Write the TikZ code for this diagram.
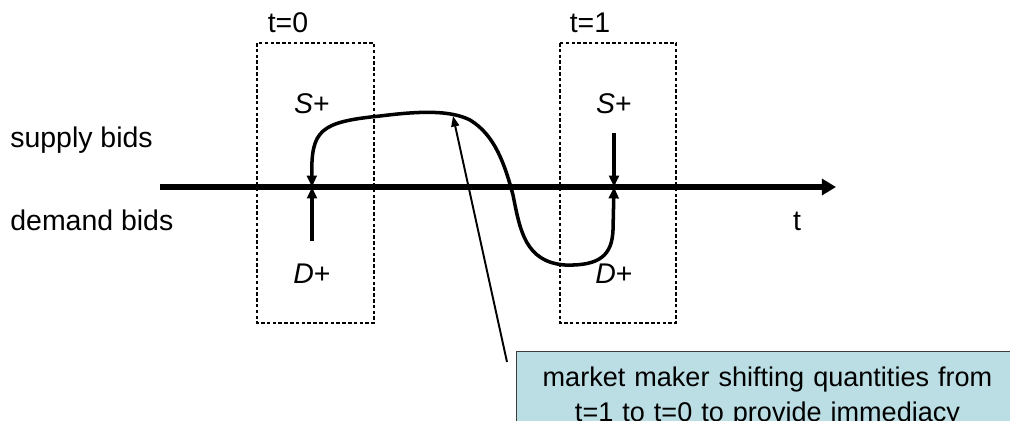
\documentclass[tikz,border=0pt]{standalone}
\usepackage{fontspec}
\setmainfont{Liberation Sans}
\usetikzlibrary{arrows.meta}
\definecolor{calloutblue}{RGB}{186,222,228}
\definecolor{calloutline}{RGB}{60,60,60}

\tikzset{
  lbl/.style={font=\fontsize{16.2}{20.4}\selectfont, inner sep=0pt},
  period/.style={dash pattern=on 2pt off 1.3pt, line width=0.6pt},
  bid/.style={line width=2.1pt, -{Triangle[length=6.5pt,width=5.5pt]}},
  shiftcurve/.style={line width=2pt, {Triangle[length=6.5pt,width=5.5pt]}-{Triangle[length=6.5pt,width=5.5pt]}},
  pointer/.style={line width=1.1pt, -{Triangle[length=6pt,width=4.5pt]}},
  callout/.style={draw=calloutline, line width=0.6pt, fill=calloutblue, anchor=north west,
    minimum width=10.04cm, minimum height=1.8cm, text width=9.8cm, align=center,
    inner ysep=8.5pt, anchor=north west, font=\fontsize{15.4}{20.4}\selectfont}
}

\begin{document}
\begin{tikzpicture}[x=0.02cm,y=-0.02cm]
\useasboundingbox (0,0) rectangle (1010,420);

\draw[period] (257,43) rectangle (374,323);
\draw[period] (560,43) rectangle (676,323);

\node[lbl, anchor=base] (t0) at (288,32) {t=0};
\node[lbl, anchor=base] (t1) at (590,32) {t=1};

\node[lbl, anchor=base west] (supply) at (10,147) {supply bids};
\node[lbl, anchor=base west] (demand) at (10,230) {demand bids};
\node[lbl, anchor=base] (tlabel) at (797,230) {t};

\node[lbl, anchor=base] (s0) at (312,113) {\itshape S\upshape+};
\node[lbl, anchor=base] (d0) at (312,283) {\itshape D\upshape+};
\node[lbl, anchor=base] (s1) at (614,113) {\itshape S\upshape+};
\node[lbl, anchor=base] (d1) at (614,283) {\itshape D\upshape+};

\coordinate (axisstart) at (160,187);
\coordinate (axisend) at (836,187);
\coordinate (o0) at (312,187);
\coordinate (o1) at (614,187);
\coordinate (dfoot) at (312,241);
\coordinate (shead) at (614,133);
\coordinate (top) at (453,116);

\draw[line width=3.3pt, -{Triangle[length=8pt,width=9pt]}] (axisstart) -- (axisend);

\draw[bid] (dfoot) -- (o0);
\draw[bid] (shead) -- (o1);

\draw[shiftcurve] (o0) .. controls (311,130) and (320,122) .. (380,116)
  .. controls (420,111) and (450,110) .. (470,120)
  .. controls (495,135) and (505,165) .. (513,195)
  .. controls (520,230) and (525,262) .. (565,265)
  .. controls (600,266) and (612,255) .. (613,230) -- (o1);

\node[callout] (mm) at (516,351) {market maker shifting quantities from\\ t=1 to t=0 to provide immediacy};
\coordinate (mmfoot) at (507,362);
\draw[pointer] (mmfoot) -- (top);
\end{tikzpicture}
\end{document}
